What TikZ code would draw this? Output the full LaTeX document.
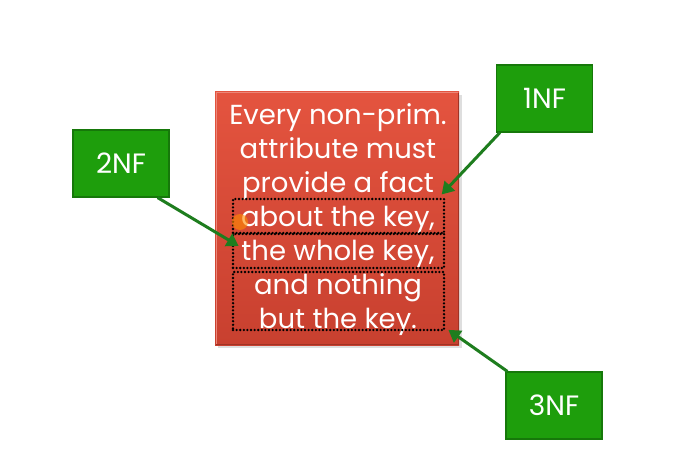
\documentclass[tikz,border=0pt]{standalone}
\usepackage{fontspec}
\setmainfont{Poppins}
\usetikzlibrary{arrows.meta,shadows}
\definecolor{slidered}{HTML}{DC4B3A}
\definecolor{slideredtop}{HTML}{E4543F}
\definecolor{slidereddark}{HTML}{C8402F}
\definecolor{nfgreen}{HTML}{1E9E0C}
\definecolor{nfborder}{HTML}{16780A}
\definecolor{arrowgreen}{HTML}{1E7D1E}
\tikzset{
  nfbox/.style={draw=nfborder, line width=1.2pt, fill=nfgreen, text=white,
    minimum width=96pt, minimum height=67pt, inner sep=0pt,
    font=\fontsize{28}{28}\selectfont},
  nfarrow/.style={draw=arrowgreen, line width=3pt,
    -{Triangle[length=12pt,width=14pt]}, shorten >=-2pt},
  partbox/.style={draw=black, line width=2.6pt, line cap=round,
    dash pattern=on 0pt off 3.6pt, inner sep=0pt}
}
\begin{document}
\begin{tikzpicture}[x=1pt,y=-1pt]
  \useasboundingbox (0,0) rectangle (687,470);
  \fill[white] (0,0) rectangle (687,470);

  % red statement card with a soft bevel
  \fill[black!25, opacity=0.5] (218,95) rectangle (462,348);
  \shade[top color=slideredtop, bottom color=slidereddark]
    (215,92) rectangle (459,345);
  \draw[slideredtop!70!white, line width=1pt] (216,344) -- (216,93) -- (458,93);
  \draw[slidereddark!80!black, line width=1pt] (216,344) -- (458,344) -- (458,93);
  \node[text=white, align=center, font=\fontsize{27.5}{34}\selectfont, inner sep=0pt]
    (statement) at (338,220)
    {Every non-prim.\\attribute must\\provide a fact\\about the key,\\the whole key,\\and nothing\\but the key.};

  % dotted outlines around the three parts
  \node[partbox, minimum width=211pt, minimum height=34pt] (keypart) at (338.5,216) {};
  \node[partbox, minimum width=211pt, minimum height=34pt] (wholepart) at (338.5,251) {};
  \node[partbox, minimum width=211pt, minimum height=58pt] (onlypart) at (338.5,301) {};

  % pointer highlight
  \fill[orange!90!yellow, opacity=0.6] (240,222) circle (8pt);

  % normal-form labels
  \node[nfbox] (nf1) at (544.5,98.5) {1NF};
  \node[nfbox] (nf2) at (121,163.5) {2NF};
  \node[nfbox] (nf3) at (554,405.5) {3NF};

  \coordinate (t1) at (443,193);
  \coordinate (t2) at (237,245);
  \coordinate (t3) at (450,331);

  \draw[nfarrow] (nf1.south west) ++(4,0) -- (t1);
  \draw[nfarrow] (nf2.south east) ++(-12,0) -- (t2);
  \draw[nfarrow] (nf3.north west) ++(2,0) -- (t3);
\end{tikzpicture}
\end{document}
